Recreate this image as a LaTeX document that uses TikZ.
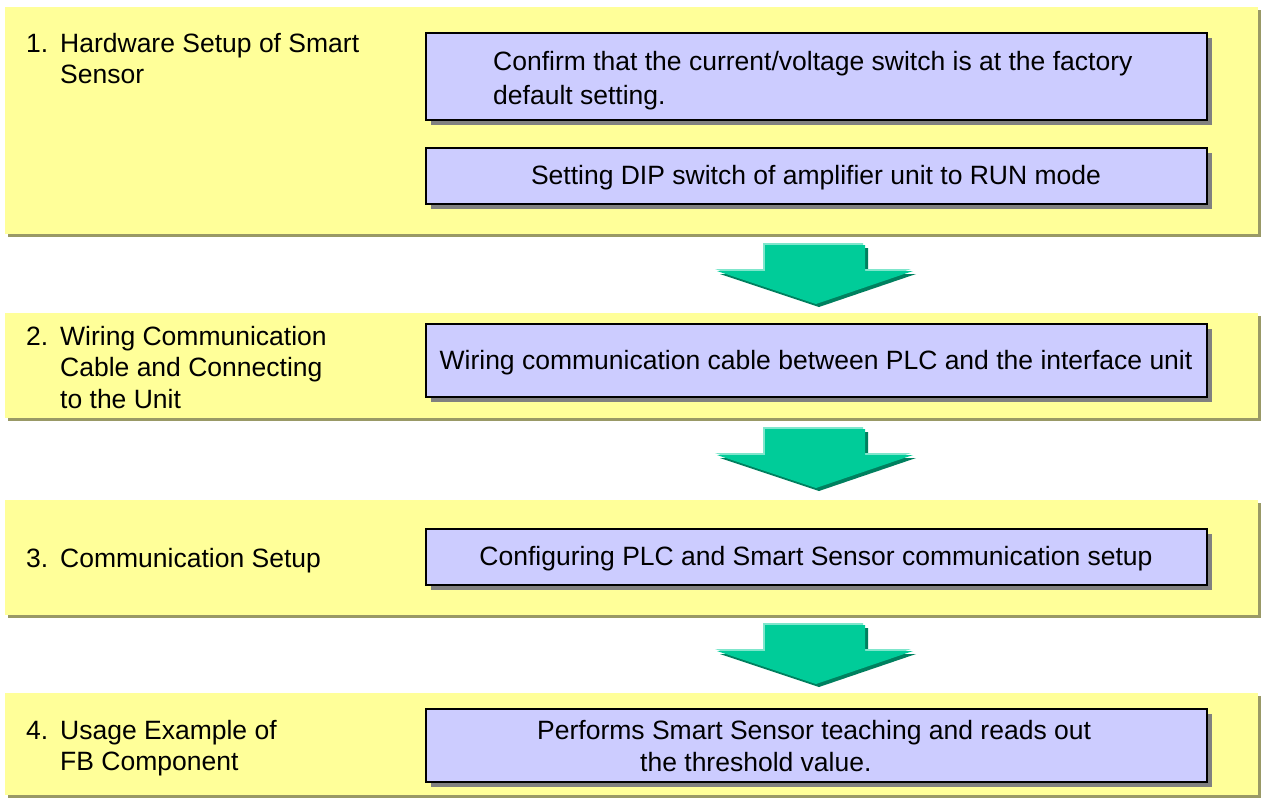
\documentclass[tikz,border=0pt]{standalone}
\usepackage{fontspec}
\setmainfont{Liberation Sans}
\usetikzlibrary{shadows}
\definecolor{panelY}{HTML}{FFFF99}
\definecolor{panelS}{HTML}{999966}
\definecolor{boxB}{HTML}{CCCCFF}
\definecolor{boxS}{HTML}{808080}
\definecolor{arrG}{HTML}{00CC99}
\definecolor{arrD}{HTML}{00805F}
\definecolor{arrL}{HTML}{7FE6CC}
\newcommand\flowarrowshape{(-50,0)--(50,0)--(50,26)--(98,26)--(1,59)--(-98,26)--(-50,26)--cycle}
\begin{document}
\begin{tikzpicture}[x=1pt,y=-1pt,
  panel/.style={fill=panelY, draw=none, anchor=north west, inner sep=0pt,
    minimum width=1253pt,
    drop shadow={shadow xshift=3pt, shadow yshift=-3pt, fill=panelS, opacity=1}},
  stepbox/.style={fill=boxB, draw=black, line width=1.5pt, anchor=north west,
    inner sep=0pt, minimum width=781pt,
    drop shadow={shadow xshift=5pt, shadow yshift=-5pt, fill=boxS, opacity=1}},
  txt/.style={anchor=base west, inner sep=0pt, font=\fontsize{26.5}{31.5}\selectfont},
  ctxt/.style={anchor=base, inner sep=0pt, font=\fontsize{26.5}{31.5}\selectfont},
  arrowshadow/.style={fill=arrD},
  arrowlight/.style={fill=arrL},
  arrowbody/.style={fill=arrG}]
\useasboundingbox[fill=white] (0,0) rectangle (1266,798);

% panels
\node[panel, minimum height=227pt] (p1) at (5,7) {};
\node[panel, minimum height=105pt] (p2) at (5,313) {};
\node[panel, minimum height=115pt] (p3) at (5,500) {};
\node[panel, minimum height=102pt] (p4) at (5,693) {};

% step boxes
\node[stepbox, minimum height=87pt] (b1a) at (425,32) {};
\node[stepbox, minimum height=56pt] (b1b) at (425,147) {};
\node[stepbox, minimum height=73pt] (b2) at (425,323) {};
\node[stepbox, minimum height=56pt] (b3) at (425,528) {};
\node[stepbox, minimum height=73pt] (b4) at (425,708) {};

% panel labels
\node[txt] (n1) at (26,52) {1.};
\node[txt] (l1a) at (60,52) {Hardware Setup of Smart};
\node[txt] (l1b) at (60,83.5) {Sensor};
\node[txt] (n2) at (26,345) {2.};
\node[txt] (l2a) at (60,345) {Wiring Communication};
\node[txt] (l2b) at (60,376.5) {Cable and Connecting};
\node[txt] (l2c) at (60,408) {to the Unit};
\node[txt] (n3) at (26,567) {3.};
\node[txt] (l3a) at (60,567) {Communication Setup};
\node[txt] (n4) at (26,739) {4.};
\node[txt] (l4a) at (60,739) {Usage Example of};
\node[txt] (l4b) at (60,770.5) {FB Component};

% box texts
\node[txt] (x1a) at (493,70) {Confirm that the current/voltage switch is at the factory};
\node[txt] (x1b) at (493,104) {default setting.};
\node[ctxt] (x1c) at (816,184.5) {Setting DIP switch of amplifier unit to RUN mode};
\node[ctxt] (x2) at (816,369) {Wiring communication cable between PLC and the interface unit};
\node[ctxt] (x3) at (816,565.5) {Configuring PLC and Smart Sensor communication setup};
\node[txt] (x4a) at (537,739) {Performs Smart Sensor teaching and reads out};
\node[txt] (x4b) at (640,771) {the threshold value.};

% block arrows
\foreach \ay in {245,429,625}{
  \begin{scope}[shift={(815,\ay)}]
    \fill[arrowshadow, shift={(3,3)}] \flowarrowshape;
    \fill[arrowlight, shift={(-2,-2)}] \flowarrowshape;
    \fill[arrowbody] \flowarrowshape;
  \end{scope}
}
\end{tikzpicture}
\end{document}
